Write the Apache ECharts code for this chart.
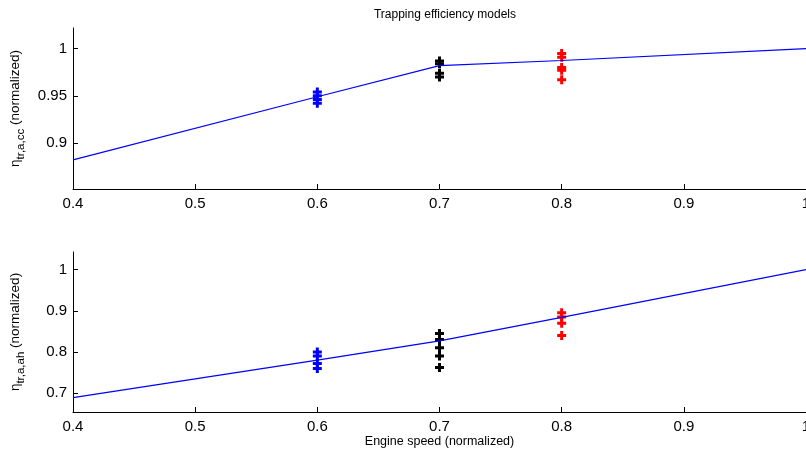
<!DOCTYPE html>
<html>
<head>
<meta charset="utf-8">
<script src="https://cdn.jsdelivr.net/npm/echarts@6/dist/echarts.min.js"></script>
<style>html,body{margin:0;padding:0;background:#fff}#c{width:806px;height:459px}</style>
</head>
<body>
<div id="c"></div>
<script>
// ---- data ----
var titleText = 'Trapping efficiency models';
var xLabel = 'Engine speed (normalized)';
var xTicks = [0.4, 0.5, 0.6, 0.7, 0.8, 0.9, 1];
var topYTicks = [0.9, 0.95, 1];
var botYTicks = [0.7, 0.8, 0.9, 1];

var modelX = [0.4, 0.6, 0.7, 0.8, 1.0];
var topModel = [0.882, 0.949, 0.982, 0.9875, 1.0];
var botModel = [0.689, 0.780, 0.827, 0.884, 1.0];

var topBlue = [0.954, 0.950, 0.946, 0.942];
var topBlack = [0.987, 0.984, 0.974, 0.970];
var topRed = [0.995, 0.991, 0.980, 0.977, 0.967];
var botBlue = [0.800, 0.790, 0.772, 0.760];
var botBlack = [0.845, 0.830, 0.810, 0.790, 0.762];
var botRed = [0.895, 0.885, 0.870, 0.840];
var xBlue = 0.6, xBlack = 0.7, xRed = 0.8;

// ---- chart ----
var FONT = 'Liberation Sans, Arial, Helvetica, sans-serif';
var PLUS = 'path://M3,0H6V3H9V6H6V9H3V6H0V3H3Z';
function pts(x, arr) { return arr.map(function (v) { return [x, v]; }); }
function lineData(xs, ys) { return xs.map(function (x, i) { return [x, ys[i]]; }); }

function xAxisDef(idx, withName) {
  var a = {
    type: 'value', gridIndex: idx, min: 0.4, max: 1,
    axisLine: { lineStyle: { color: '#000', width: 1 } },
    axisTick: { inside: true, length: 5, customValues: xTicks, lineStyle: { color: '#000' } },
    axisLabel: { customValues: xTicks, color: '#000', fontSize: 15, fontFamily: FONT, margin: 7,
      formatter: function (v) { return String(Math.round(v * 10) / 10); } },
    splitLine: { show: false }
  };
  if (withName) {
    a.name = xLabel; a.nameLocation = 'middle'; a.nameGap = 23;
    a.nameTextStyle = { color: '#000', fontSize: 12.5, fontFamily: FONT };
  }
  return a;
}
function yAxisDef(idx, min, max, ticks, sub) {
  return {
    type: 'value', gridIndex: idx, min: min, max: max,
    axisLine: { show: true, lineStyle: { color: '#000', width: 1 } },
    axisTick: { show: true, inside: true, length: 5, customValues: ticks, lineStyle: { color: '#000' } },
    axisLabel: { customValues: ticks, color: '#000', fontSize: 15, fontFamily: FONT, margin: 6,
      formatter: function (v) { return String(Math.round(v * 100) / 100); } },
    splitLine: { show: false },
    name: '{n|η}{s|' + sub + '}{n| (normalized)}',
    nameLocation: 'middle', nameRotate: 90, nameGap: 46,
    nameTextStyle: {
      color: '#000', fontFamily: FONT, fontSize: 13.5,
      rich: {
        n: { fontSize: 13.5, fontFamily: FONT, color: '#000', lineHeight: 16, verticalAlign: 'top' },
        s: { fontSize: 11.5, fontFamily: FONT, color: '#000', lineHeight: 19, verticalAlign: 'bottom' }
      }
    }
  };
}
function scat(idx, x, arr, color) {
  return { type: 'scatter', xAxisIndex: idx, yAxisIndex: idx, data: pts(x, arr),
    symbol: PLUS, symbolSize: 9, itemStyle: { color: color, opacity: 1 }, z: 2, animation: false, silent: true };
}
function model(idx, ys) {
  return { type: 'line', xAxisIndex: idx, yAxisIndex: idx, data: lineData(modelX, ys),
    showSymbol: false, symbol: 'none', lineStyle: { color: '#0000ff', width: 1.2 }, z: 5, animation: false, silent: true };
}

var chart = echarts.init(document.getElementById('c'), null, { renderer: 'canvas' });
chart.setOption({
  backgroundColor: '#fff',
  animation: false,
  title: { text: titleText, left: 440, textAlign: 'center', top: 4,
    textStyle: { fontSize: 12, fontWeight: 'normal', color: '#000', fontFamily: FONT } },
  grid: [
    { left: 73, right: 0, top: 28, height: 161, containLabel: false, outerBoundsMode: 'none' },
    { left: 73, right: 0, top: 252, height: 160, containLabel: false, outerBoundsMode: 'none' }
  ],
  xAxis: [xAxisDef(0, false), xAxisDef(1, true)],
  yAxis: [yAxisDef(0, 0.851, 1.022, topYTicks, 'tr,a,cc'), yAxisDef(1, 0.654, 1.043, botYTicks, 'tr,a,ah')],
  series: [
    scat(0, xBlue, topBlue, '#0000ff'),
    scat(0, xBlack, topBlack, '#000000'),
    scat(0, xRed, topRed, '#ff0000'),
    model(0, topModel),
    scat(1, xBlue, botBlue, '#0000ff'),
    scat(1, xBlack, botBlack, '#000000'),
    scat(1, xRed, botRed, '#ff0000'),
    model(1, botModel)
  ]
});
</script>
</body>
</html>
